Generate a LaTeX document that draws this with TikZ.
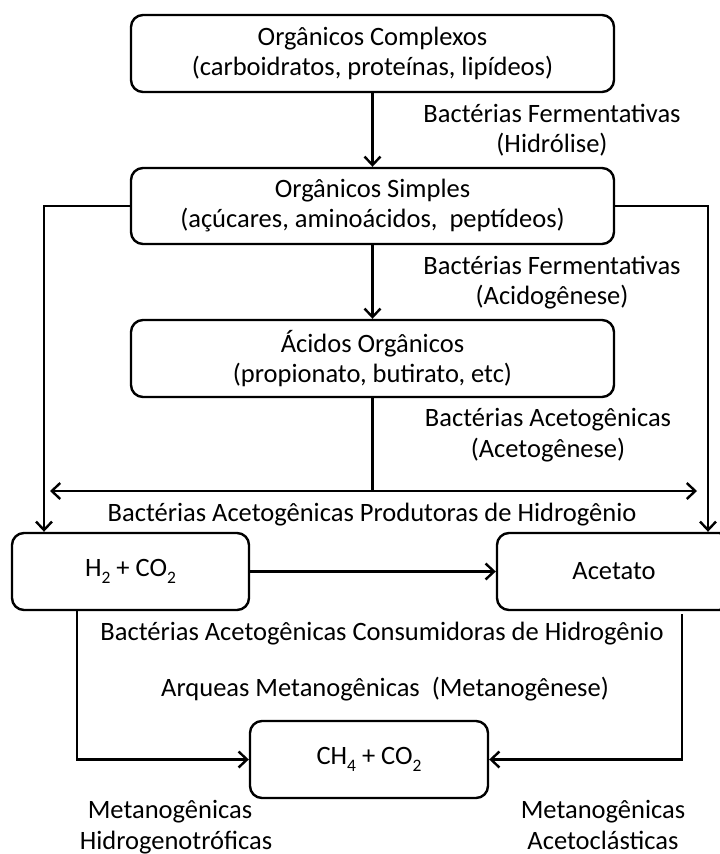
\documentclass[tikz,border=0pt]{standalone}
\usepackage{fontspec}
\setmainfont{Carlito}
\usetikzlibrary{arrows.meta}
% subscript set in the text font
\newcommand{\lowidx}[1]{\raisebox{-0.28em}{\fontsize{17.5}{17.5}\selectfont #1}}
\begin{document}
\begin{tikzpicture}[x=1pt,y=-1pt,
  every node/.style={font=\fontsize{26.5}{30}\selectfont, inner sep=0pt},
  box/.style={draw, line width=2.4pt, rounded corners=12pt, align=center},
  lbl/.style={align=center, text height=18pt, text depth=6pt},
  conn/.style={line width=2.4pt},
  >={Straight Barb[length=8.5pt,width=16pt,line width=2.4pt]}]
\clip (0,0) rectangle (720,854);
\useasboundingbox (0,0) rectangle (720,854);

% boxes
\node[box, minimum width=483pt, minimum height=77pt] (b1) at (372.5,53.5)
  {Orgânicos Complexos\\(carboidratos, proteínas, lipídeos)};
\node[box, minimum width=483pt, minimum height=76pt] (b2) at (372.5,206)
  {Orgânicos Simples\\(açúcares, aminoácidos, \ peptídeos)};
\node[box, minimum width=483pt, minimum height=77pt] (b3) at (372.5,358.5)
  {Ácidos Orgânicos\\(propionato, butirato, etc)};
\node[box, minimum width=237pt, minimum height=77pt] (h2) at (130.5,571.5)
  {H\lowidx{2} + CO\lowidx{2}};
\node[box, minimum width=234pt, minimum height=77pt] (ac) at (614,571.5)
  {Acetato};
\node[box, minimum width=238pt, minimum height=77pt] (ch4) at (369,759.5)
  {CH\lowidx{4} + CO\lowidx{2}};

% helper points for the routed connectors
\coordinate (lx) at (44,0);
\coordinate (rx) at (708,0);
\coordinate (split) at (372.5,491);
\coordinate (hl) at (50,491);
\coordinate (hr) at (697,491);
\coordinate (dl) at (77,0);
\coordinate (dr) at (682,614);

% connectors
\draw[conn,->] (b1) -- (b2);
\draw[conn,->] (b2) -- (b3);
\draw[conn,->] (b2.west) -| (h2.north -| lx);
\draw[conn,->] (b2.east) -| (ac.north -| rx);
\draw[conn] (b3.south) -- (split);
\draw[conn,<->] (hl) -- (hr);
\draw[conn,->] (h2) -- (ac);
\draw[conn,->] (h2.south -| dl) |- (ch4.west);
\draw[conn,->] (dr) |- (ch4.east);

% labels
\node[lbl] (l1) at (552,116) {Bactérias Fermentativas};
\node[lbl] (l1b) at (552,146) {(Hidrólise)};
\node[lbl] (l2) at (552,268) {Bactérias Fermentativas};
\node[lbl] (l2b) at (552,298) {(Acidogênese)};
\node[lbl] (l3) at (548,420) {Bactérias Acetogênicas};
\node[lbl] (l3b) at (548,451) {(Acetogênese)};
\node[lbl] (l4) at (372,515) {Bactérias Acetogênicas Produtoras de Hidrogênio};
\node[lbl] (l5) at (382,634) {Bactérias Acetogênicas Consumidoras de Hidrogênio};
\node[lbl] (l6) at (385,690) {Arqueas Metanogênicas \ (Metanogênese)};
\node[lbl] (l7) at (170,812) {Metanogênicas};
\node[lbl] (l7b) at (176,843) {Hidrogenotróficas};
\node[lbl] (l8) at (603,812) {Metanogênicas};
\node[lbl] (l8b) at (603,843) {Acetoclásticas};
\end{tikzpicture}
\end{document}
